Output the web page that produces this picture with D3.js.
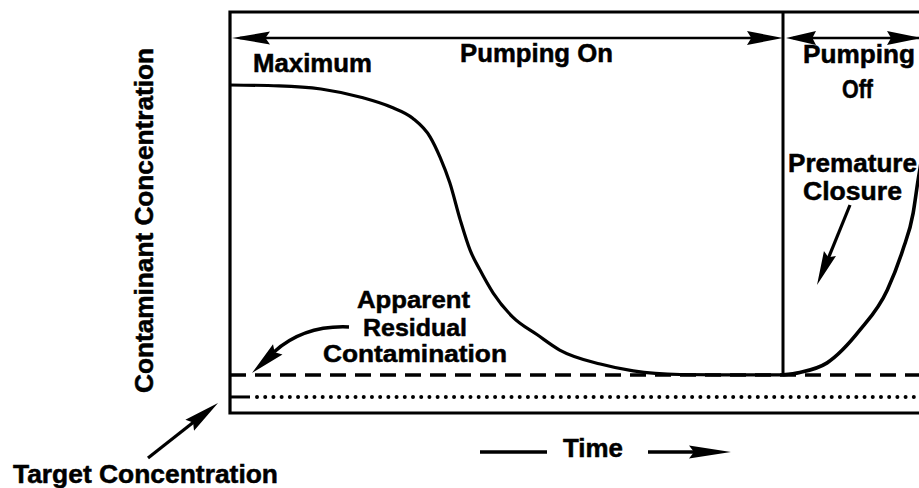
<!DOCTYPE html>
<html>
<head>
<meta charset="utf-8">
<script src="https://cdn.jsdelivr.net/npm/d3@7/dist/d3.min.js"></script>
<style>
  html, body { margin: 0; padding: 0; background: #fff; }
  svg { display: block; }
  text { font-family: "Liberation Sans", Arial, Helvetica, sans-serif; font-weight: bold; fill: #000; stroke: #000; stroke-width: 0.5px; }
</style>
</head>
<body>
<div id="chart"></div>
<script>
// Concentration while pumping (time and concentration in relative units)
const pumpTime = [0, 7, 13, 19, 23, 26.1, 28.6, 30, 31.4, 32.9, 34.3, 35.7, 37.6, 40.4, 43.9, 47.1, 52.9, 57.6, 64.3, 72, 79];
const pumpConc = [81.8, 81.6, 80.8, 78.6, 76.3, 73.5, 68.8, 63.8, 57.4, 48.1, 40.6, 35.7, 29.9, 23.9, 19.5, 15.7, 12.2, 10.5, 9.6, 9.5, 9.5];

// Rebound after pumping stops
const offTime = [79, 81.4, 85.3, 90, 93.9, 96.1, 97.6, 98.3, 99.3];
const offConc = [9.5, 10.1, 12.5, 20.7, 30.7, 40.6, 49.9, 58.1, 68.1];

// Reference levels
const levelNames = ["Maximum", "Apparent residual", "Target"];
const levelConc = [81.8, 9.5, 4.0];
const pumpOffAt = 79;

const W = 919, H = 488;
const svg = d3.select("#chart").append("svg").attr("width", W).attr("height", H);

const x = d3.scaleLinear().domain([0, 100]).range([230, 930]);
const y = d3.scaleLinear().domain([0, 100]).range([413, 12]);

const ink = "#000";

// helper: filled arrowhead with its tip at (tx, ty) pointing along angle a
function arrowHead(tx, ty, a, len, half) {
  const ux = Math.cos(a), uy = Math.sin(a);
  const bx = tx - ux * len, by = ty - uy * len;
  const nx = -uy, ny = ux;
  const notch = len * 0.12;
  const p = [
    [tx, ty],
    [bx + nx * half, by + ny * half],
    [bx + ux * notch, by + uy * notch],
    [bx - nx * half, by - ny * half]
  ];
  svg.append("path").attr("d", "M" + p.map(d => d.join(",")).join("L") + "Z").attr("fill", ink);
}

// frame of the plot area
svg.append("path")
  .attr("d", `M${x(100)},${y(100)}H${x(0)}V${y(0)}H${x(100)}`)
  .attr("fill", "none").attr("stroke", ink).attr("stroke-width", 3.2);

// vertical line where pumping stops
svg.append("line")
  .attr("x1", x(pumpOffAt)).attr("x2", x(pumpOffAt))
  .attr("y1", y(100)).attr("y2", y(levelConc[1]))
  .attr("stroke", ink).attr("stroke-width", 3);

// apparent residual level (dashed)
svg.append("line")
  .attr("x1", x(0)).attr("x2", x(100))
  .attr("y1", y(levelConc[1])).attr("y2", y(levelConc[1]))
  .attr("stroke", ink).attr("stroke-width", 3.5)
  .attr("stroke-dasharray", "16 9");

// target level (dotted)
svg.append("line")
  .attr("x1", x(0) + 1).attr("x2", x(0) + 20)
  .attr("y1", y(levelConc[2])).attr("y2", y(levelConc[2]))
  .attr("stroke", ink).attr("stroke-width", 3);
svg.append("line")
  .attr("x1", x(0) + 27).attr("x2", x(100))
  .attr("y1", y(levelConc[2])).attr("y2", y(levelConc[2]))
  .attr("stroke", ink).attr("stroke-width", 4)
  .attr("stroke-linecap", "round")
  .attr("stroke-dasharray", "0.01 8.2");

// concentration curves
const line = d3.line().x(d => x(d[0])).y(d => y(d[1])).curve(d3.curveMonotoneX);
svg.append("path")
  .attr("d", line(d3.zip(pumpTime, pumpConc)))
  .attr("fill", "none").attr("stroke", ink).attr("stroke-width", 3.2);
svg.append("path")
  .attr("d", line(d3.zip(offTime, offConc)))
  .attr("fill", "none").attr("stroke", ink).attr("stroke-width", 3.6);

// phase arrows along the top
const phaseY = 38;
svg.append("line").attr("x1", x(0) + 10).attr("x2", x(pumpOffAt) - 10)
  .attr("y1", phaseY).attr("y2", phaseY).attr("stroke", ink).attr("stroke-width", 2.5);
arrowHead(x(0) + 2, phaseY, Math.PI, 38, 6.5);
arrowHead(x(pumpOffAt), phaseY, 0, 36, 7);
svg.append("line").attr("x1", x(pumpOffAt) + 10).attr("x2", W)
  .attr("y1", phaseY).attr("y2", phaseY).attr("stroke", ink).attr("stroke-width", 2.5);
arrowHead(x(pumpOffAt) + 3, phaseY, Math.PI, 30, 7);
arrowHead(921, phaseY, 0, 34, 7);

// labels
function label(t, cx, by, len, size) {
  svg.append("text").attr("x", cx).attr("y", by)
    .attr("text-anchor", "middle")
    .attr("font-size", size || 25)
    .attr("textLength", len).attr("lengthAdjust", "spacingAndGlyphs")
    .text(t);
}
label("Maximum", 312.5, 72, 119);
label("Pumping On", 536.5, 62, 153);
label("Pumping", 859, 63, 112);
label("Off", 857.5, 98, 31);
label("Premature", 852.5, 172, 129);
label("Closure", 852.5, 200, 99);
label("Apparent", 413.5, 308, 113, 24);
label("Residual", 415, 336, 104, 24);
label("Contamination", 415, 362, 184, 24);
label("Time", 593, 457, 60);
label("Target  Concentration", 145.5, 483, 265);

// y-axis title
svg.append("text")
  .attr("transform", "translate(153,220.5) rotate(-90)")
  .attr("text-anchor", "middle")
  .attr("font-size", 26)
  .attr("textLength", 345).attr("lengthAdjust", "spacingAndGlyphs")
  .text("Contaminant Concentration");

// time arrow
svg.append("line").attr("x1", 480).attr("x2", 547).attr("y1", 452).attr("y2", 452)
  .attr("stroke", ink).attr("stroke-width", 3.5);
svg.append("line").attr("x1", 648).attr("x2", 700).attr("y1", 452).attr("y2", 452)
  .attr("stroke", ink).attr("stroke-width", 3.5);
arrowHead(731, 452, 0, 42, 6.5);

// pointer to the target level
svg.append("line").attr("x1", 148).attr("y1", 458).attr("x2", 195).attr("y2", 421)
  .attr("stroke", ink).attr("stroke-width", 3.2);
arrowHead(218, 403, Math.atan2(403 - 458, 218 - 148), 36, 7);

// pointer for premature closure
svg.append("line").attr("x1", 850).attr("y1", 205).attr("x2", 828).attr("y2", 259)
  .attr("stroke", ink).attr("stroke-width", 3.2);
arrowHead(817, 285, Math.atan2(285 - 205, 817 - 850), 34, 6.5);

// curved pointer for apparent residual contamination
svg.append("path").attr("d", "M349,327 Q304,325 274,352")
  .attr("fill", "none").attr("stroke", ink).attr("stroke-width", 3.5);
arrowHead(252, 373, Math.atan2(373 - 350, 252 - 277), 35, 7);
</script>
</body>
</html>
